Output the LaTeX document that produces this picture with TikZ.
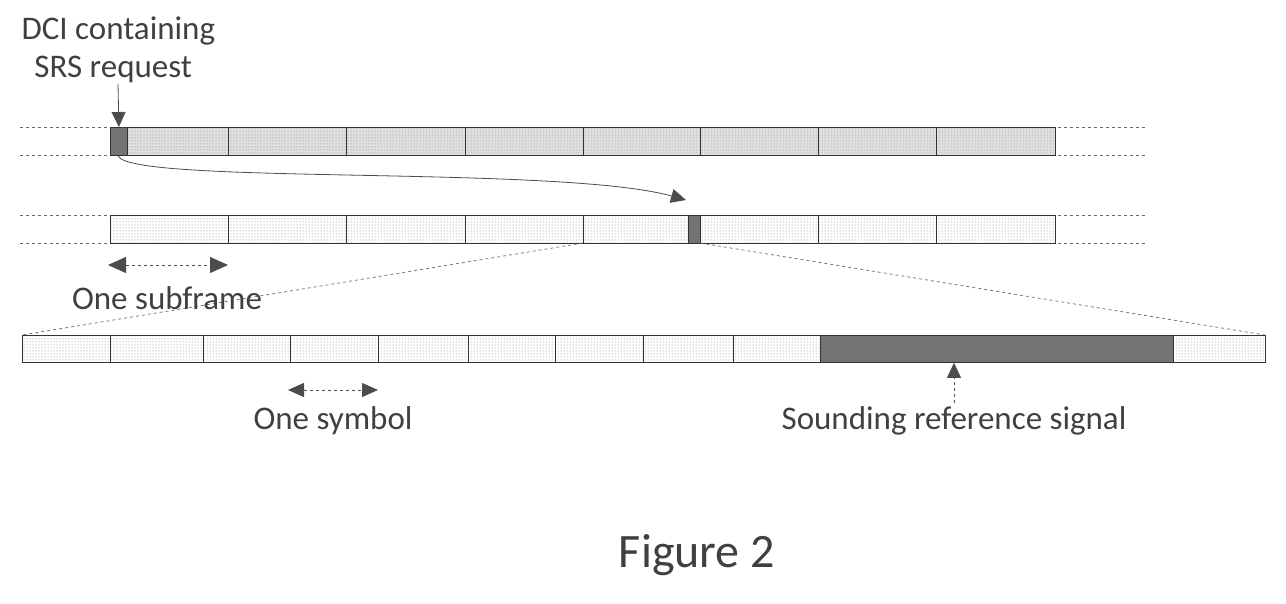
\documentclass[tikz,border=0pt]{standalone}
\usepackage{fontspec}
\setmainfont{Carlito}
\usetikzlibrary{patterns,arrows.meta}
\begin{document}
\begin{tikzpicture}[x=1pt,y=-1pt,
  cellbox/.style={draw=black!80,line width=0.8pt,pattern=dots,pattern color=black!50},
  darkbox/.style={draw=black!80,line width=0.8pt,fill=black!55},
  lbl/.style={font=\fontsize{33}{38}\selectfont,text=black!75},
  dashl/.style={dashed,black!60,line width=0.7pt},
  tip/.style={-{Triangle[length=15pt,width=14pt]},black!70,line width=0.8pt}]
\useasboundingbox (0,0) rectangle (1286,603);
% row 1
\draw[dashl] (20,127) -- (1145,127);
\draw[dashl] (20,155) -- (1145,155);
\foreach \a/\b in {110/228,228/346,346/465,465/583,583/700,700/818,818/936,936/1055}
  {\path[fill=black!12] (\a,127) rectangle (\b,155); \path[cellbox] (\a,127) rectangle (\b,155);}
\node[darkbox,minimum width=17pt,minimum height=28pt,inner sep=0pt,anchor=north west] (dci) at (110,127) {};
% row 2
\draw[dashl] (20,215) -- (1145,215);
\draw[dashl] (20,243) -- (1145,243);
\foreach \a/\b in {110/228,228/346,346/465,465/583,583/700,700/818,818/936,936/1055}
  {\path[fill=white] (\a,215) rectangle (\b,243); \path[cellbox] (\a,215) rectangle (\b,243);}
\node[darkbox,minimum width=12pt,minimum height=28pt,inner sep=0pt,anchor=north west] (srs1) at (688,215) {};
\coordinate (sfl) at (583,243);
\coordinate (sfr) at (700,243);
% row 3
\foreach \a/\b in {22/110,110/203,203/290,290/378,378/468,468/555,555/643,643/733,733/820,1173/1265}
  \path[cellbox] (\a,335) rectangle (\b,362);
\node[darkbox,minimum width=353pt,minimum height=27pt,inner sep=0pt,anchor=north west] (srs) at (820,335) {};
\coordinate (r3l) at (22,335);
\coordinate (r3r) at (1265,335);
\draw[dashl] (sfl) -- (r3l);
\draw[dashl] (sfr) -- (r3r);
% curve
\coordinate (ct) at (686,200);
\draw[tip] (dci.south west) ++(8,0) .. controls (130,185) and (560,165) .. (ct);
% labels
\node[lbl,align=left,anchor=west] (dcit) at (18,50) {DCI containing\\ \ \,SRS request};
\coordinate (dcia) at (118,84);
\draw[tip] (dcia) -- (dci.north);
\coordinate (s1) at (108,265); \coordinate (s2) at (228,265);
\draw[dashed,black!70,line width=0.8pt,{Triangle[length=18pt,width=16pt]}-{Triangle[length=18pt,width=16pt]}] (s1) -- (s2);
\node[lbl] (sft) at (167,298) {One subframe};
\coordinate (y1) at (288,390); \coordinate (y2) at (378,390);
\draw[dashed,black!70,line width=0.8pt,{Triangle[length=16pt,width=14pt]}-{Triangle[length=16pt,width=14pt]}] (y1) -- (y2);
\node[lbl] (syt) at (333,421) {One symbol};
\node[lbl] (srst) at (954,421) {Sounding reference signal};
\draw[tip,dashed] (srst.north) -- (srs.south -| srst.north);
\node[font=\fontsize{48}{54}\selectfont,text=black!75] (fig) at (697,555) {Figure 2};
\end{tikzpicture}
\end{document}
